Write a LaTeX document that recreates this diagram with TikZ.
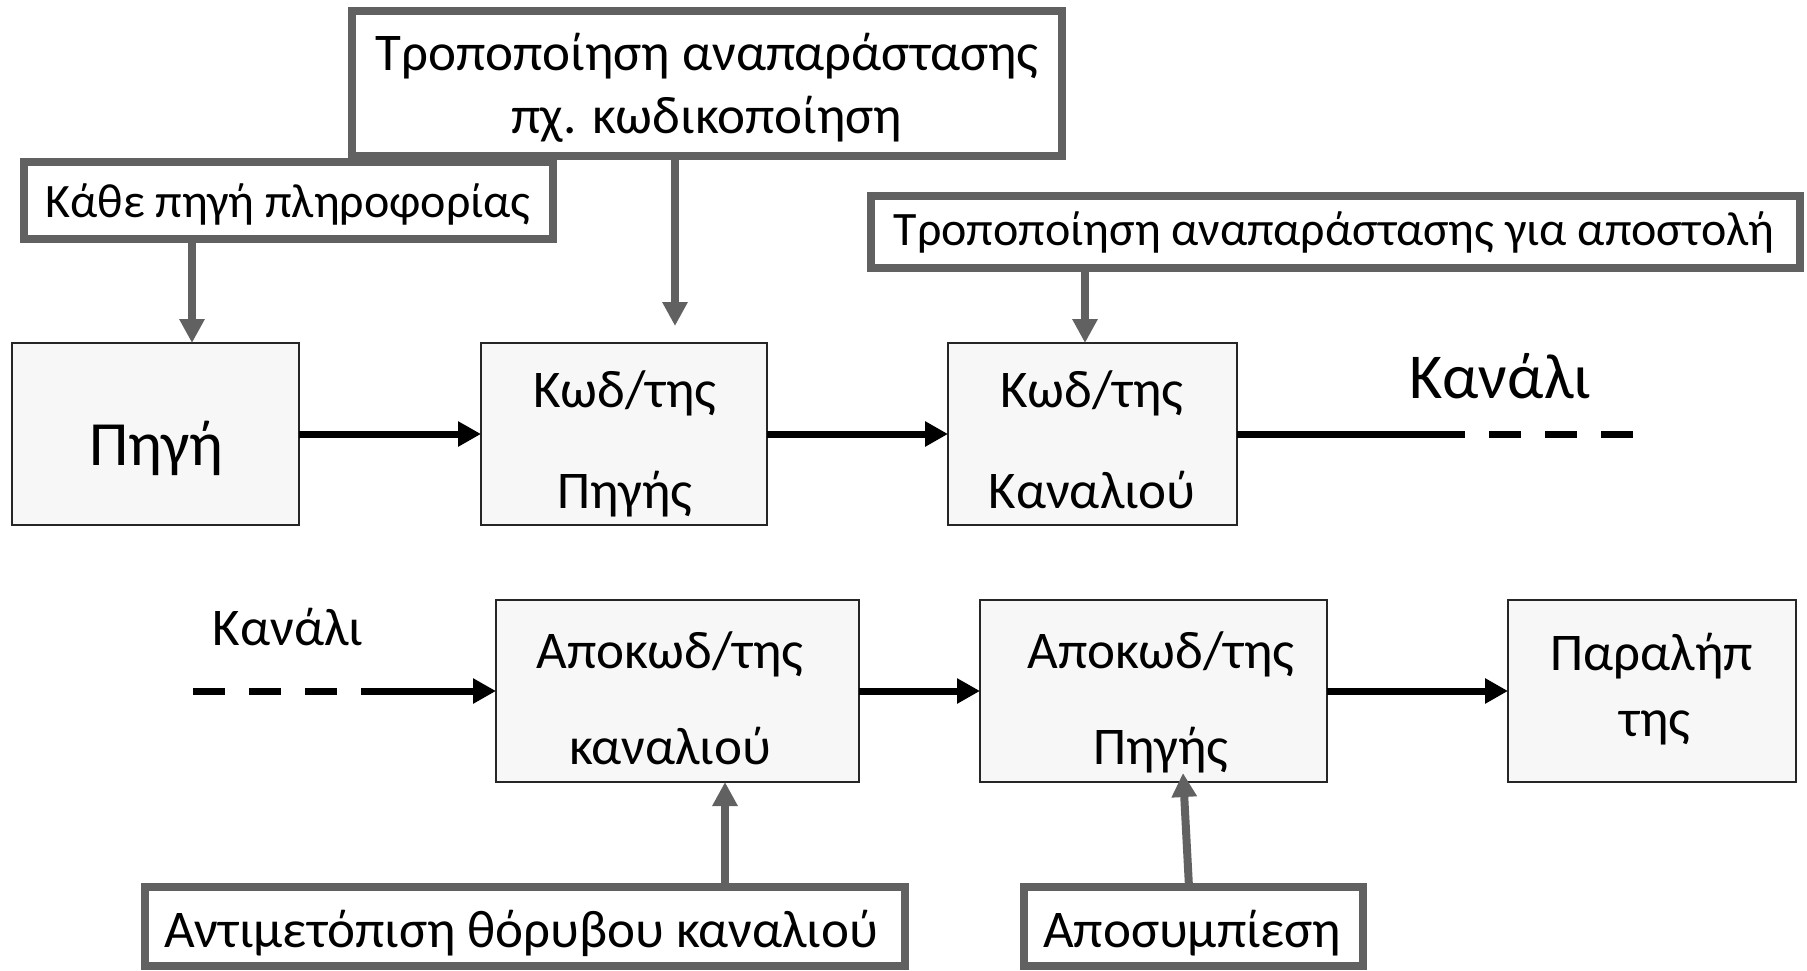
\documentclass[tikz,border=0pt]{standalone}
\usepackage{fontspec}
\setmainfont{Carlito}
\usetikzlibrary{arrows.meta}
\definecolor{frame}{HTML}{616161}
\definecolor{boxfill}{HTML}{F7F7F7}
\newcommand\setfs[1]{\fontsize{#1}{#1}\selectfont}
\tikzset{
  note/.style={draw=frame, line width=8pt, fill=white, rectangle, outer sep=0pt, inner sep=0pt},
  block/.style={draw=black!85, line width=2pt, fill=boxfill, rectangle, outer sep=0pt, inner sep=0pt},
  txt/.style={anchor=base, inner sep=0pt, outer sep=0pt},
  flow/.style={line width=7pt, -{Triangle[length=23pt,width=24pt]}},
  link/.style={line width=7pt},
  chdash/.style={line width=7pt, dash pattern=on 32pt off 24pt},
  hint/.style={draw=frame, line width=8pt, -{Triangle[length=24pt,width=24pt]}},
}
\begin{document}
\begin{tikzpicture}[x=1pt, y=-1pt]
\useasboundingbox (0,0) rectangle (1807,970);

% annotation frames (top)
\node[note, minimum width=710pt, minimum height=145pt] (n1) at (707,83.5) {};
\node[note, minimum width=529pt, minimum height=77pt] (n2) at (288.5,200.5) {};
\node[note, minimum width=929pt, minimum height=72pt] (n3) at (1335.5,232) {};
% annotation frames (bottom)
\node[note, minimum width=760pt, minimum height=79pt] (n4) at (525,926.5) {};
\node[note, minimum width=339pt, minimum height=79pt] (n5) at (1193.5,926.5) {};

% processing blocks
\node[block, minimum width=287pt, minimum height=182pt] (src) at (155.5,434) {};
\node[block, minimum width=286pt, minimum height=182pt] (enc) at (624,434) {};
\node[block, minimum width=289pt, minimum height=182pt] (chenc) at (1092.5,434) {};
\node[block, minimum width=363pt, minimum height=182pt] (dec1) at (677.5,691) {};
\node[block, minimum width=347pt, minimum height=182pt] (dec2) at (1153.5,691) {};
\node[block, minimum width=288pt, minimum height=182pt] (rcv) at (1652,691) {};

% texts
\node[txt] (t1a) at (707,70) {\setfs{53}Τροποποίηση αναπαράστασης};
\node[txt] (t1b) at (707,133) {\setfs{53}πχ. κωδικοποίηση};
\node[txt] (t2) at (288,217) {\setfs{48}Κάθε πηγή πληροφορίας};
\node[txt] (t3) at (1334,245) {\setfs{48}Τροποποίηση αναπαράστασης για αποστολή};
\node[txt] (tsrc) at (156,465) {\setfs{63}Πηγή};
\node[txt] (tenca) at (625,407) {\setfs{53}Κωδ/της};
\node[txt] (tencb) at (625,508) {\setfs{53}Πηγής};
\node[txt] (tcha) at (1092,407) {\setfs{53}Κωδ/της};
\node[txt] (tchb) at (1092,508) {\setfs{53}Καναλιού};
\node[txt] (tch1) at (1500,398) {\setfs{64}Κανάλι};
\node[txt] (tch2) at (288,645) {\setfs{53}Κανάλι};
\node[txt] (td1a) at (670,668) {\setfs{53}Αποκωδ/της};
\node[txt] (td1b) at (670,764) {\setfs{53}καναλιού};
\node[txt] (td2a) at (1161,668) {\setfs{53}Αποκωδ/της};
\node[txt] (td2b) at (1161,764) {\setfs{53}Πηγής};
\node[txt] (trca) at (1652,670) {\setfs{53}Παραλήπ};
\node[txt] (trcb) at (1655,736) {\setfs{53}της};
\node[txt] (t4) at (521,947) {\setfs{53}Αντιμετόπιση θόρυβου καναλιού};
\node[txt] (t5) at (1192,947) {\setfs{53}Αποσυμπίεση};

% annotation arrows
\coordinate (a2) at ([xshift=-96.5pt]n2.south);
\draw[hint] (a2) -- (a2 |- src.north);
\coordinate (a1) at ([xshift=-32pt]n1.south);
\draw[hint, shorten >=17pt] (a1) -- (a1 |- enc.north);
\coordinate (a3) at ([xshift=-250.5pt]n3.south);
\draw[hint] (a3) -- (a3 |- chenc.north);
\coordinate (a4) at ([xshift=200pt]n4.north);
\draw[hint] (a4) -- (a4 |- dec1.south);
\draw[hint] ([xshift=-4.5pt]n5.north) -- ([xshift=29.5pt,yshift=9pt]dec2.south);

% signal flow, transmitter
\draw[flow] (src.east) -- (enc.west);
\draw[flow] (enc.east) -- (chenc.west);
\coordinate (chs) at (1433,434);
\coordinate (che) at (1633,434);
\draw[link] (chenc.east) -- (chs);
\draw[chdash] (chs) -- (che);

% signal flow, receiver
\coordinate (cin) at (193,691);
\coordinate (cmid) at (361,691);
\draw[chdash] (cin) -- (cmid);
\draw[flow] (cmid) -- (dec1.west);
\draw[flow] (dec1.east) -- (dec2.west);
\draw[flow] (dec2.east) -- (rcv.west);
\end{tikzpicture}
\end{document}
